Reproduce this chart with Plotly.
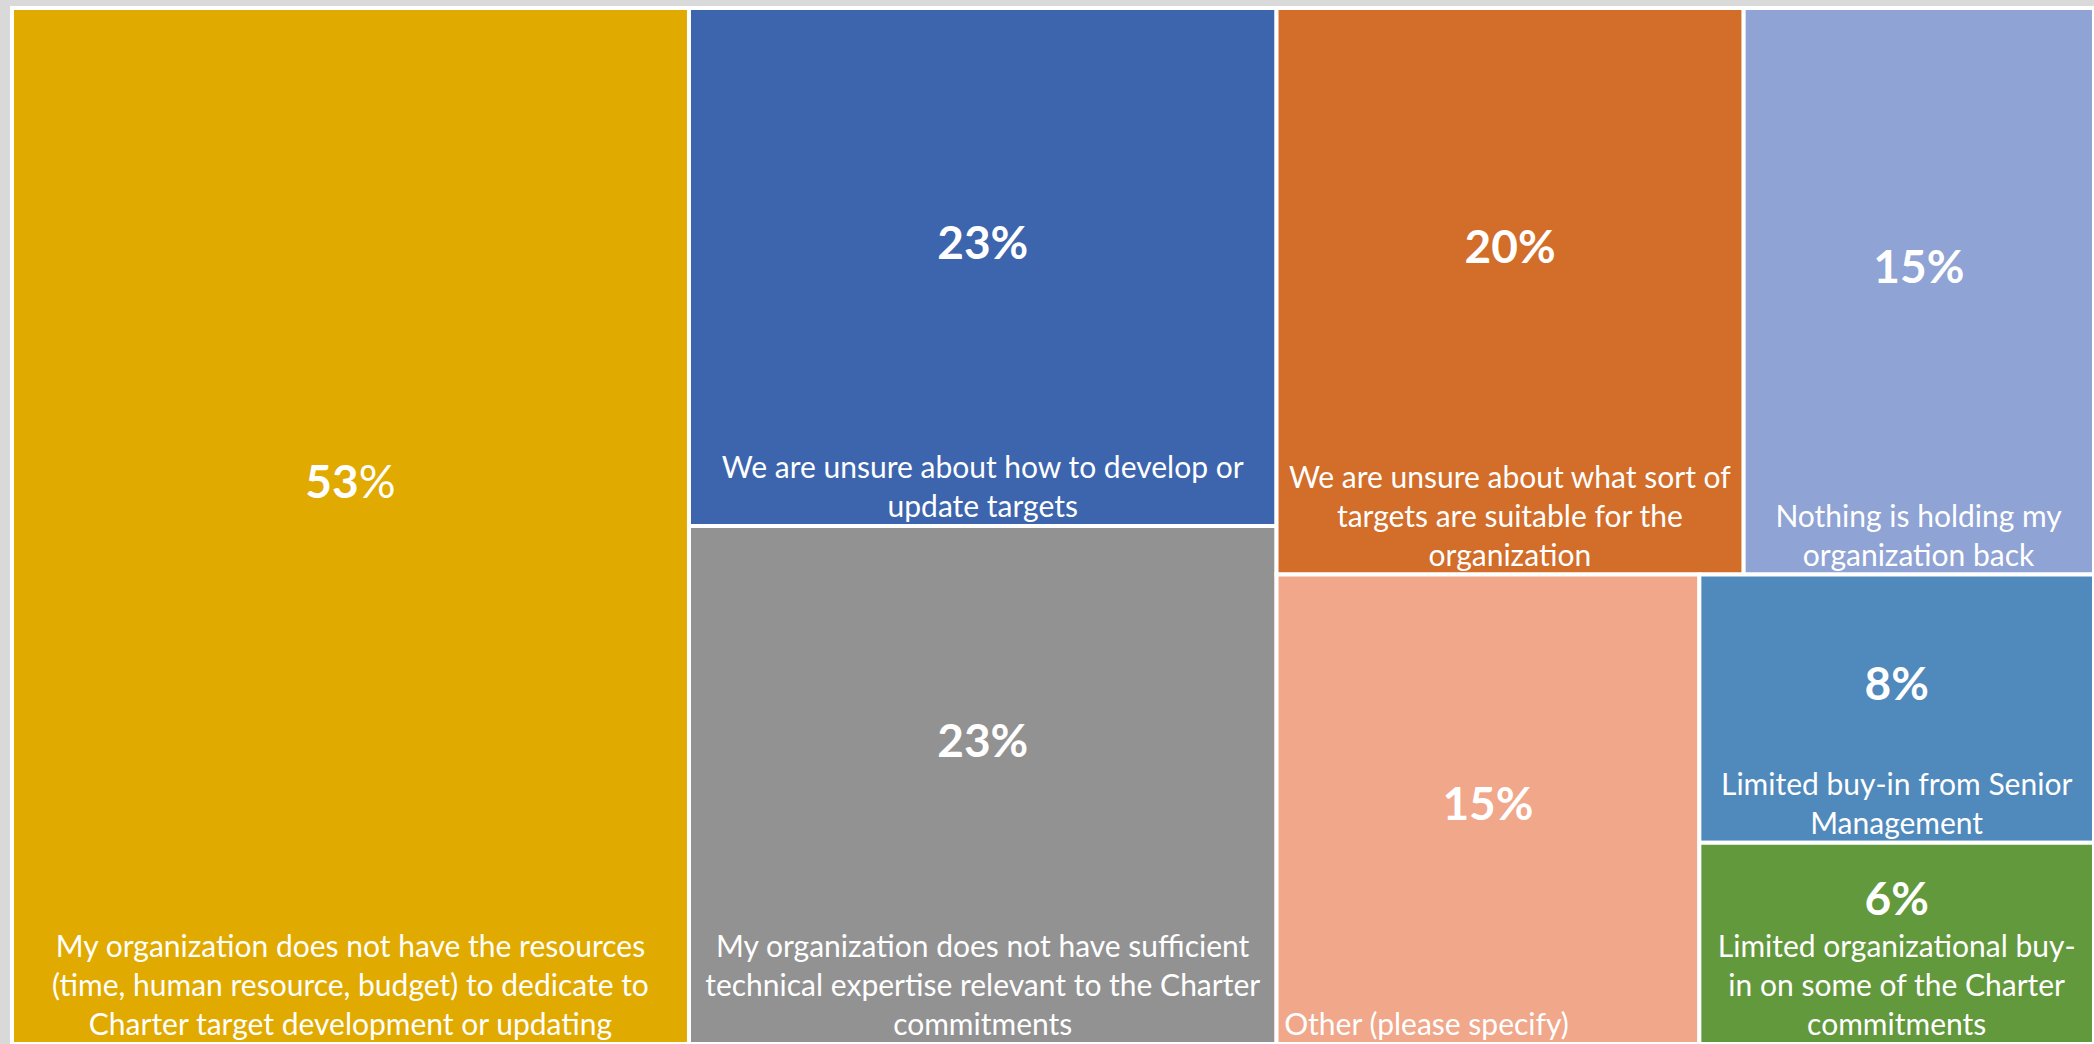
import plotly.graph_objects as go

categories = [
    "My organization does not have the resources (time, human resource, budget) to dedicate to Charter target development or updating",
    "We are unsure about how to develop or update targets",
    "My organization does not have sufficient technical expertise relevant to the Charter commitments",
    "We are unsure about what sort of targets are suitable for the organization",
    "Nothing is holding my organization back",
    "Other (please specify)",
    "Limited buy-in from Senior Management",
    "Limited organizational buy-in on some of the Charter commitments",
]
values = [53, 23, 23, 20, 15, 15, 8, 6]

display_labels = [
    "My organization does not have the resources<br>(time, human resource, budget) to dedicate to<br>Charter target development or updating",
    "We are unsure about how to develop or<br>update targets",
    "My organization does not have sufficient<br>technical expertise relevant to the Charter<br>commitments",
    "We are unsure about what sort of<br>targets are suitable for the<br>organization",
    "Nothing is holding my<br>organization back",
    "Other (please specify)",
    "Limited buy-in from Senior<br>Management",
    "Limited organizational buy-<br>in on some of the Charter<br>commitments",
]
colors = ["#E1AA00", "#3D65AD", "#929292", "#D26D2A", "#8FA3D4", "#F0A78A", "#5089BC", "#63993D"]

LABEL_SIZE = 30
PCT_SIZE = 46
NBSP = "\u00a0"

# the single-line "Other" label sits at the left of its tile in the original
label_text = list(display_labels)
label_text[5] = label_text[5] + NBSP * 16

# percentage label sits centred in the space left above the category label:
# one blank (label-sized) line per category-label line below it
pct_templates = []
for i, lab in enumerate(display_labels):
    n_lines = lab.count("<br>") + 1
    pct = "<b>%{value}</b>%" if i == 0 else "<b>%{value}%</b>"
    pct_templates.append(
        f"<span style='font-size:28px'>{NBSP}</span><br>"
        f"<span style='font-size:{PCT_SIZE}px'>{pct}</span>" + f"<br>{NBSP}" * n_lines
    )

parents = [""] * len(categories)
FONT = "Lato, 'Open Sans', sans-serif"

fig = go.Figure()
fig.add_trace(go.Treemap(
    labels=categories,
    parents=parents,
    values=values,
    customdata=label_text,
    texttemplate="%{customdata}",
    textposition="bottom center",
    textfont=dict(family=FONT, size=LABEL_SIZE, color="white"),
    marker=dict(colors=colors, line=dict(color="white", width=4),
                pad=dict(t=0, l=0, r=0, b=0)),
    tiling=dict(pad=0, squarifyratio=1),
    pathbar=dict(visible=False),
    sort=True,
    hoverinfo="label+value",
))
fig.add_trace(go.Treemap(
    labels=categories,
    parents=parents,
    values=values,
    texttemplate=pct_templates,
    textposition="middle center",
    textfont=dict(family=FONT, size=LABEL_SIZE, color="white"),
    marker=dict(colors=["rgba(0,0,0,0)"] * len(values), line=dict(width=0),
                pad=dict(t=0, l=0, r=0, b=0)),
    tiling=dict(pad=0, squarifyratio=1),
    pathbar=dict(visible=False),
    sort=True,
    hoverinfo="skip",
))
fig.update_layout(
    width=2094,
    height=1044,
    margin=dict(l=12, t=8, r=0, b=0, pad=0),
    paper_bgcolor="#D9D9D9",
    showlegend=False,
)
fig.write_html(
    "out.html",
    config={"displayModeBar": False},
    post_script="document.body.style.margin='0';document.body.style.overflow='hidden';",
)
